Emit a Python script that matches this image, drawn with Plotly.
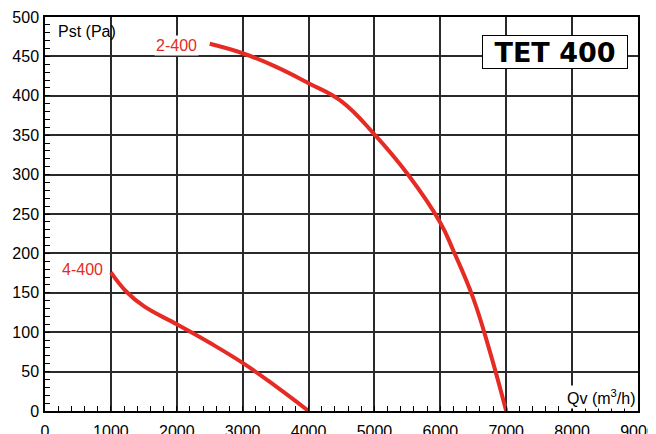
import plotly.graph_objects as go

# Data
qv_2_400 = [2500, 3000, 3500, 4000, 4500, 5000, 5500, 6000, 6200, 6500, 6750, 7000]
pst_2_400 = [466, 454, 437, 416, 393, 351, 301, 239, 203, 143, 76, 0]

qv_4_400 = [1000, 1240, 1500, 2000, 2500, 3000, 3500, 4000]
pst_4_400 = [176, 151, 133, 110, 86.5, 61, 31.5, 0]

x_ticks = [0, 1000, 2000, 3000, 4000, 5000, 6000, 7000, 8000, 9000]
y_ticks = [0, 50, 100, 150, 200, 250, 300, 350, 400, 450, 500]

RED = "#e52b24"
FONT = "Liberation Sans, Arial, sans-serif"

fig = go.Figure()
for xs, ys in ((qv_2_400, pst_2_400), (qv_4_400, pst_4_400)):
    fig.add_trace(go.Scatter(x=xs, y=ys, mode="lines",
                             line=dict(color=RED, width=4, shape="spline", smoothing=1.2),
                             showlegend=False, hoverinfo="skip"))

# the page body adds an 8px offset, so the figure is 8px smaller and margins compensate
fig.update_layout(
    width=648, height=426,
    margin=dict(l=37, r=18, t=9, b=23, autoexpand=False),
    paper_bgcolor="white", plot_bgcolor="white",
    font=dict(family=FONT, size=16, color="black"),
)
fig.update_xaxes(range=[0, 9000], tickvals=x_ticks, ticktext=[str(v) for v in x_ticks],
                 showgrid=True, gridcolor="#2a2a2a", gridwidth=1.5,
                 showline=True, linecolor="black", linewidth=1.5, mirror=True,
                 ticks="inside", ticklen=0, zeroline=False, automargin=False,
                 ticklabelstandoff=5,
                 minor=dict(dtick=200, ticks="inside", ticklen=5, tickcolor="black", showgrid=False),
                 tickfont=dict(size=16, family=FONT))
fig.update_yaxes(range=[0, 500], tickvals=y_ticks, ticktext=[str(v) for v in y_ticks],
                 showgrid=True, gridcolor="#2a2a2a", gridwidth=1.5,
                 showline=True, linecolor="black", linewidth=1.5, mirror=True,
                 ticks="inside", ticklen=0, zeroline=False, automargin=False,
                 ticklabelstandoff=1,
                 minor=dict(dtick=10, ticks="inside", ticklen=5, tickcolor="black", showgrid=False),
                 tickfont=dict(size=16, family=FONT))

fig.add_annotation(x=0, y=500, xref="x", yref="y", text="Pst (Pa)", showarrow=False,
                   xanchor="left", yanchor="middle", xshift=11, yshift=-14,
                   font=dict(size=16, family=FONT, color="black"))
fig.add_annotation(x=9000, y=0, xref="x", yref="y", text="Qv (m<sup>3</sup>/h)", showarrow=False,
                   xanchor="right", yanchor="middle", xshift=-1, yshift=14,
                   font=dict(size=16, family=FONT, color="black"), bgcolor="white")
fig.add_annotation(x=qv_2_400[0], y=pst_2_400[0], xref="x", yref="y", text="2-400", showarrow=False,
                   xanchor="right", yanchor="middle", xshift=-11, yshift=-2,
                   font=dict(size=16, family=FONT, color=RED), bgcolor="white")
fig.add_annotation(x=qv_4_400[0], y=pst_4_400[0], xref="x", yref="y", text="4-400", showarrow=False,
                   xanchor="right", yanchor="middle", xshift=-6, yshift=3,
                   font=dict(size=16, family=FONT, color=RED), bgcolor="white")
fig.add_annotation(x=(628 - 45) / 593, y=(411 - 35) / 394, xref="paper", yref="paper",
                   text="<b>TET 400</b>", showarrow=False,
                   xanchor="right", yanchor="top", width=140, height=28,
                   font=dict(size=27, family="DejaVu Sans, sans-serif", color="black"),
                   bgcolor="white", bordercolor="black", borderwidth=1, borderpad=2)

fig.write_html("out.html")
